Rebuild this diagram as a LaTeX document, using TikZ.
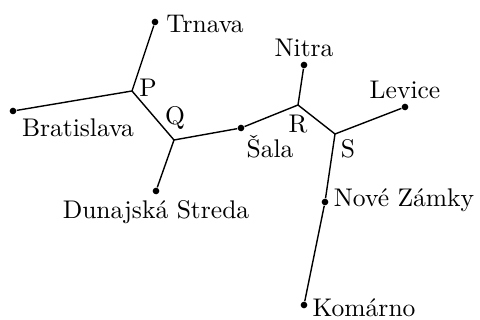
\documentclass[tikz,border=0pt]{standalone}
\begin{document}
\begin{tikzpicture}[x=0.3917pt,y=-0.3917pt,
  city/.style={circle,fill=black,inner sep=0pt,minimum size=2.6pt},
  txt/.style={anchor=base,inner sep=0pt},
  edge/.style={line width=0.55pt}]
\useasboundingbox (0,0) rectangle (480,320);
% junctions
\coordinate (P) at (132,91);
\coordinate (Q) at (174,140);
\coordinate (R) at (298,105);
\coordinate (S) at (335,134);
% cities
\node[city] (trn) at (155,22) {};
\node[city] (bra) at (13,111) {};
\node[city] (dun) at (156,191) {};
\node[city] (sal) at (241,128) {};
\node[city] (nit) at (304,65) {};
\node[city] (lev) at (405,107) {};
\node[city] (nov) at (325,202) {};
\node[city] (kom) at (304,305) {};
% edges
\draw[edge] (trn) -- (P) -- (bra);
\draw[edge] (P) -- (Q) -- (dun);
\draw[edge] (Q) -- (sal) -- (R) -- (nit);
\draw[edge] (R) -- (S) -- (lev);
\draw[edge] (S) -- (nov) -- (kom);
% labels
\node[txt] (lP) at (148,96.7) {P};
\node[txt] (lQ) at (175,125) {Q};
\node[txt] (lR) at (298,133) {R};
\node[txt] (lS) at (348,158) {S};
\node[txt] (ltrn) at (205,32.3) {Trnava};
\node[txt] (lbra) at (78,136.7) {Bratislava};
\node[txt] (ldun) at (156,219) {Dunajská Streda};
\node[txt] (lsal) at (270,158) {Šala};
\node[txt] (lnit) at (304,57) {Nitra};
\node[txt] (llev) at (405,99) {Levice};
\node[txt] (lnov) at (404,207) {Nové Zámky};
\node[txt] (lkom) at (364,317) {Komárno};
\end{tikzpicture}
\end{document}
